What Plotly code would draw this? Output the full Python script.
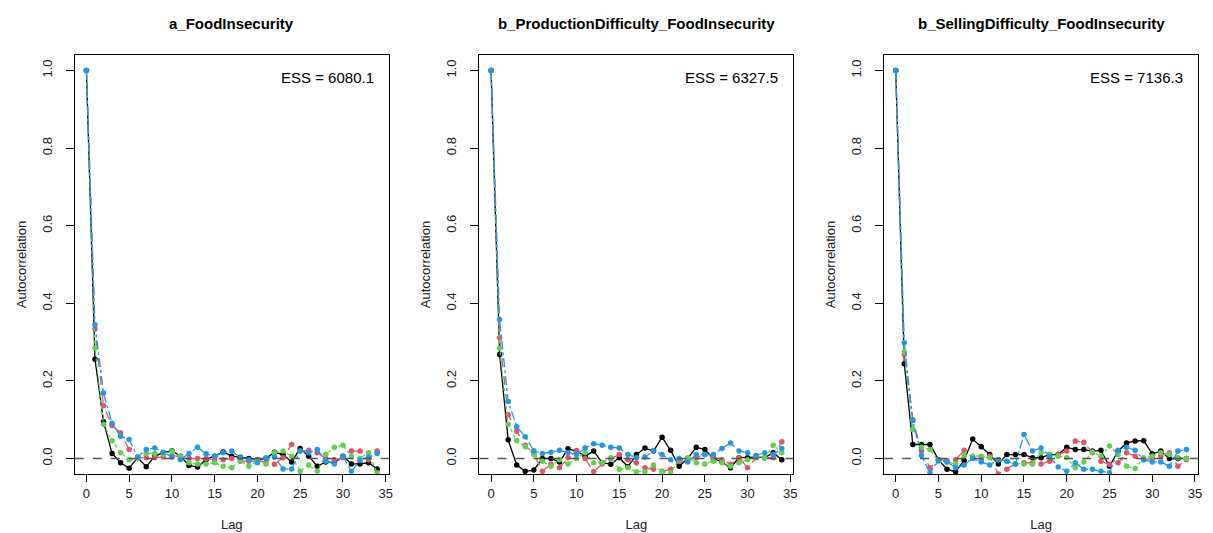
import plotly.graph_objects as go

lags = list(range(35))

titles = ["a_FoodInsecurity", "b_ProductionDifficulty_FoodInsecurity", "b_SellingDifficulty_FoodInsecurity"]
ess_labels = ["ESS = 6080.1", "ESS = 6327.5", "ESS = 7136.3"]
x_ticks = [0, 5, 10, 15, 20, 25, 30, 35]
y_ticks = [0.0, 0.2, 0.4, 0.6, 0.8, 1.0]
y_tick_text = ["0.0", "0.2", "0.4", "0.6", "0.8", "1.0"]

# Panel 1: a_FoodInsecurity
p1_black = [1.0, 0.256, 0.095, 0.013, -0.011, -0.025, 0.002, -0.021, 0.006, 0.015, 0.020, 0.006,
            -0.018, -0.022, -0.003, 0.006, 0.017, 0.006, 0.003, 0.000, -0.003, 0.000, 0.016, 0.010,
            -0.009, 0.026, 0.006, -0.020, -0.009, -0.011, 0.006, -0.014, -0.014, -0.011, -0.027]
p1_pink = [1.0, 0.334, 0.136, 0.085, 0.066, 0.023, 0.002, 0.002, 0.002, 0.004, 0.008, 0.004,
           0.000, 0.000, 0.000, -0.003, -0.003, 0.000, -0.007, -0.007, -0.003, -0.011, -0.015, 0.002,
           0.036, 0.019, 0.021, 0.015, 0.000, -0.003, 0.002, 0.019, 0.019, -0.003, 0.019]
p1_green = [1.0, 0.285, 0.088, 0.046, 0.015, -0.003, 0.000, 0.013, 0.013, 0.010, 0.019, 0.006,
            -0.011, -0.014, -0.014, -0.011, -0.020, -0.024, -0.005, -0.020, -0.007, -0.014, 0.015, 0.019,
            0.006, -0.033, -0.017, -0.033, 0.010, 0.029, 0.034, 0.006, 0.000, 0.015, -0.037]
p1_blue = [1.0, 0.345, 0.169, 0.091, 0.057, 0.049, 0.004, 0.023, 0.027, 0.016, 0.004, -0.003,
           0.013, 0.029, 0.012, 0.006, 0.015, 0.019, 0.002, -0.003, -0.011, 0.002, 0.004, -0.027,
           -0.027, 0.019, 0.015, 0.023, -0.007, -0.014, 0.006, -0.033, -0.005, 0.004, 0.013]

# Panel 2: b_ProductionDifficulty_FoodInsecurity
p2_black = [1.0, 0.268, 0.048, -0.017, -0.033, -0.030, 0.000, 0.000, -0.009, 0.025, 0.019, 0.006,
            0.019, -0.011, -0.015, 0.002, -0.021, 0.010, 0.027, 0.019, 0.055, 0.021, -0.020, 0.000,
            0.029, 0.023, 0.000, -0.009, -0.024, 0.002, 0.002, 0.004, 0.002, 0.015, -0.003]
p2_pink = [1.0, 0.311, 0.113, 0.070, 0.034, 0.012, -0.033, -0.015, -0.024, 0.002, 0.019, 0.000,
           -0.034, -0.014, 0.000, 0.010, -0.003, -0.011, -0.024, -0.028, -0.033, -0.028, -0.007, -0.005,
           0.002, 0.010, 0.004, -0.003, -0.015, 0.002, -0.024, 0.002, 0.002, 0.002, 0.043]
p2_green = [1.0, 0.284, 0.088, 0.046, 0.030, 0.010, -0.007, -0.020, -0.003, -0.014, 0.000, 0.015,
            -0.011, -0.011, 0.002, -0.028, -0.024, -0.034, -0.034, -0.017, -0.034, -0.037, -0.003, 0.002,
            -0.011, -0.014, -0.007, -0.011, -0.020, -0.011, -0.003, 0.006, 0.002, 0.034, 0.015]
p2_blue = [1.0, 0.358, 0.147, 0.082, 0.056, 0.020, 0.013, 0.016, 0.021, 0.015, 0.010, 0.027,
           0.038, 0.034, 0.029, 0.027, 0.010, 0.002, 0.004, 0.020, 0.010, -0.003, 0.000, -0.009,
           0.010, 0.010, 0.010, 0.026, 0.040, 0.019, 0.015, 0.008, 0.015, 0.010, 0.026]

# Panel 3: b_SellingDifficulty_FoodInsecurity
p3_black = [1.0, 0.244, 0.036, 0.036, 0.036, -0.003, -0.028, -0.034, -0.005, 0.050, 0.030, 0.010,
            -0.014, 0.010, 0.010, 0.010, 0.002, 0.002, 0.010, 0.010, 0.029, 0.023, 0.023, 0.019,
            0.021, -0.020, 0.019, 0.040, 0.045, 0.046, 0.012, 0.019, 0.000, 0.000, 0.000]
p3_pink = [1.0, 0.268, 0.100, 0.020, -0.024, -0.003, -0.005, -0.003, 0.021, 0.002, -0.003, 0.006,
           -0.040, -0.028, -0.014, -0.011, -0.011, -0.014, -0.007, 0.010, 0.019, 0.045, 0.042, 0.015,
           -0.007, -0.015, -0.011, 0.015, 0.006, -0.003, 0.000, 0.006, 0.015, -0.020, -0.003]
p3_green = [1.0, 0.275, 0.075, 0.029, 0.023, -0.007, -0.009, -0.014, 0.008, 0.006, 0.006, 0.002,
            -0.003, -0.007, -0.014, -0.014, -0.014, 0.015, 0.010, 0.006, 0.002, -0.024, -0.009, 0.017,
            0.006, 0.032, 0.010, -0.020, -0.026, 0.002, 0.006, 0.015, 0.010, 0.002, 0.000]
p3_blue = [1.0, 0.298, 0.097, 0.008, -0.037, -0.005, -0.009, -0.024, -0.017, 0.000, -0.009, -0.017,
           -0.003, -0.007, -0.014, 0.062, 0.019, 0.027, 0.006, -0.022, -0.033, -0.011, -0.028, -0.028,
           -0.033, -0.037, 0.021, 0.029, 0.021, -0.003, -0.009, -0.009, -0.020, 0.019, 0.023]

panels = [
    [p1_black, p1_pink, p1_green, p1_blue],
    [p2_black, p2_pink, p2_green, p2_blue],
    [p3_black, p3_pink, p3_green, p3_blue],
]
chain_colors = ["#000000", "#DF536B", "#61D04F", "#2297E6"]
chain_dash = ["solid", "dash", "dot", "dashdot"]

FONT = "Liberation Sans, Arial"
W, H = 1213, 533
boxes_px = [(67, 382), (473, 788), (879, 1194)]
top_px, bottom_px = 47, 466
ydom = [1 - bottom_px / H, 1 - top_px / H]

fig = go.Figure()
for i, series in enumerate(panels):
    ax = "" if i == 0 else str(i + 1)
    for j, vals in enumerate(series):
        fig.add_trace(go.Scatter(
            x=lags, y=vals, mode="lines+markers",
            line=dict(color=chain_colors[j], width=1.3, dash=chain_dash[j]),
            marker=dict(color=chain_colors[j], size=5.5),
            xaxis="x" + ax, yaxis="y" + ax, showlegend=False,
        ))
    x0, x1 = boxes_px[i]
    common = dict(showline=True, linecolor="black", linewidth=1, mirror=True,
                  ticks="outside", tickcolor="black", showgrid=False,
                  zeroline=False, tickfont=dict(family=FONT, size=13, color="#222"))
    fig.layout["xaxis" + ax] = dict(
        domain=[x0 / W, x1 / W], range=[-1.36, 35.36], anchor="y" + ax,
        tickvals=x_ticks, ticklen=7,
        title=dict(text="Lag", standoff=20, font=dict(family=FONT, size=13, color="#222")),
        **common)
    fig.layout["yaxis" + ax] = dict(
        domain=ydom, range=[-0.04, 1.04], anchor="x" + ax,
        tickvals=y_ticks, ticktext=y_tick_text, tickangle=-90, ticklen=8, ticklabelstandoff=9,
        title=dict(text="Autocorrelation", standoff=10, font=dict(family=FONT, size=13, color="#222")),
        **common)
    # dashed zero reference line
    fig.add_shape(type="line", xref="x" + ax + " domain", yref="y" + ax,
                  x0=0, x1=1, y0=0, y1=0,
                  line=dict(color="#555", width=1.3, dash="dash"))
    # panel title
    fig.add_annotation(text="<b>" + titles[i] + "</b>", xref="paper", yref="paper",
                       x=(x0 + x1) / 2 / W, y=1 - 16 / H, showarrow=False,
                       font=dict(family=FONT, size=15, color="black"),
                       xanchor="center", yanchor="middle")
    # ESS text
    fig.add_annotation(text=ess_labels[i], xref="x" + ax + " domain", yref="y" + ax + " domain",
                       x=(x1 - 13 - x0) / (x1 - x0), y=1 - 22 / (bottom_px - top_px),
                       showarrow=False, xanchor="right", yanchor="middle",
                       font=dict(family=FONT, size=15, color="black"))

fig.update_layout(width=W, height=H, margin=dict(l=0, r=0, t=0, b=0),
                  plot_bgcolor="white", paper_bgcolor="white")
fig.write_html("out.html")
